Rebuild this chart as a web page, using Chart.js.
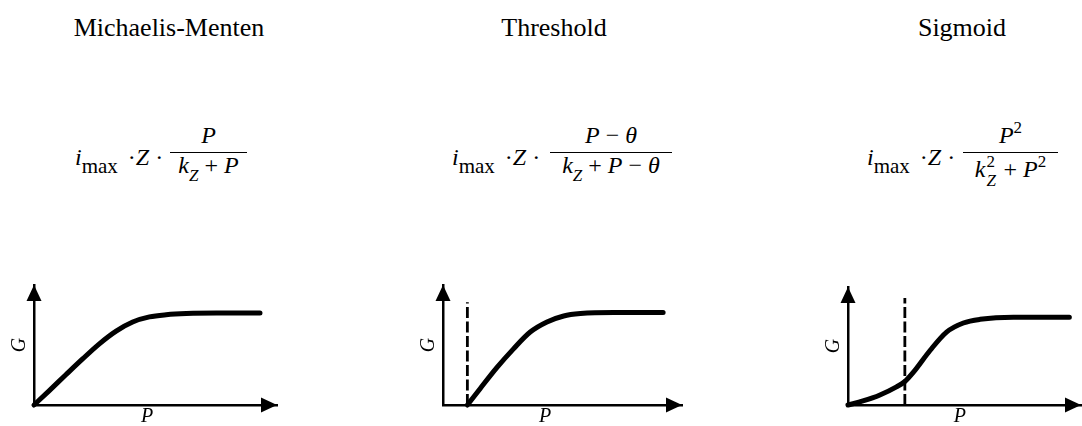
<!DOCTYPE html>
<html>
<head>
<meta charset="utf-8">
<script src="https://cdn.jsdelivr.net/npm/chart.js@4.4.1/dist/chart.umd.min.js"></script>
<style>
  body { margin: 0; background: #fff; }
  #page { position: relative; width: 1082px; height: 426px; overflow: hidden;
          font-family: "Liberation Serif", "Times New Roman", serif; color: #000; }
  .title { position: absolute; top: 15px; width: 300px; font-size: 26px; line-height: 26px; text-align: center; }
  .eq { position: absolute; font-size: 24px; line-height: 24px; white-space: nowrap; }
  .bar { position: absolute; height: 0; border-top: 1.6px solid #000; }
  .num, .den { text-align: center; }
  .sub { font-size: 21px; position: relative; top: 8px; }
  .dot { margin-left: 10px; }
  .zs { font-size: 17px; position: relative; top: 8px; font-style: italic; }
  .sq { font-size: 17px; position: relative; top: -10px; }
  .ss { display: inline-block; position: relative; width: 12px; height: 24px; }
  .ss span { position: absolute; left: 1px; font-size: 17px; line-height: 17px; }
  canvas { position: absolute; top: 270px; }
</style>
</head>
<body>
<div id="page">
  <div class="title" style="left:19px">Michaelis-Menten</div>
  <div class="title" style="left:404px">Threshold</div>
  <div class="title" style="left:812px">Sigmoid</div>

  <!-- i_max · Z · P / (k_Z + P) -->
  <div class="eq" style="left:75px; top:145px"><i>i</i><span class="sub">max</span><span class="dot">·</span><i>Z</i> ·</div>
  <div class="eq num" style="left:170px; width:77px; top:123px"><i>P</i></div>
  <div class="bar" style="left:170px; width:77px; top:152px"></div>
  <div class="eq den" style="left:170px; width:77px; top:153px"><i>k</i><span class="zs">Z</span> + <i>P</i></div>

  <!-- i_max · Z · (P − θ) / (k_Z + P − θ) -->
  <div class="eq" style="left:452px; top:145px"><i>i</i><span class="sub">max</span><span class="dot">·</span><i>Z</i> ·</div>
  <div class="eq num" style="left:550px; width:122px; top:123px"><i>P</i> − <i>θ</i></div>
  <div class="bar" style="left:550px; width:122px; top:152px"></div>
  <div class="eq den" style="left:550px; width:122px; top:153px"><i>k</i><span class="zs">Z</span> + <i>P</i> − <i>θ</i></div>

  <!-- i_max · Z · P² / (k_Z² + P²) -->
  <div class="eq" style="left:867px; top:145px"><i>i</i><span class="sub">max</span><span class="dot">·</span><i>Z</i> ·</div>
  <div class="eq num" style="left:963px; width:95px; top:123px"><i>P</i><span class="sq">2</span></div>
  <div class="bar" style="left:963px; width:95px; top:152px"></div>
  <div class="eq den" style="left:963px; width:95px; top:153px"><i>k</i><span class="ss"><span style="top:0">2</span><span style="top:19px;font-style:italic">Z</span></span> + <i>P</i><span class="sq">2</span></div>

  <canvas id="mm" width="300" height="156" style="left:0"></canvas>
  <canvas id="th" width="310" height="156" style="left:390px"></canvas>
  <canvas id="sg" width="292" height="156" style="left:790px"></canvas>
</div>

<script>
// uptake curves, in percent of axis length (P across, G up)
const mmP = [0, 6.2, 13.1, 20.0, 26.9, 33.8, 40.6, 47.5, 54.4, 62.7, 75.1, 93.0];
const mmG = [0, 11.8, 25.2, 38.4, 51.0, 61.6, 69.2, 73.4, 75.2, 76.2, 76.6, 76.6];

const thP = [10.2, 15.6, 22.6, 29.5, 36.5, 43.5, 50.5, 57.5, 71.4, 92.1];
const thG = [0, 13.8, 31.3, 46.8, 60.8, 69.2, 74.2, 76.2, 77.1, 77.1];

const sgP = [0, 6.4, 13.7, 20.8, 24.4, 28.0, 35.2, 42.3, 49.5, 56.7, 71.0, 95.0];
const sgG = [0, 3.4, 8.5, 15.4, 19.9, 27.6, 46.2, 61.8, 69.5, 72.6, 74.4, 74.4];

// threshold markers (dashed): position on P and height on G
const thTheta = [10.2, 85.7];
const sgTheta = [24.4, 90.6];

const serif = '"Liberation Serif", "Times New Roman", serif';

// filled arrow tips on both axes, plus the P label under the x axis
const axisDecor = {
    id: 'axisDecor',
    afterDraw(chart, args, opts) {
        const { ctx, chartArea: a, scales } = chart;
        ctx.save();
        ctx.fillStyle = '#000';
        ctx.beginPath();
        ctx.moveTo(a.right, a.bottom);
        ctx.lineTo(a.right - 16, a.bottom - 7.5);
        ctx.lineTo(a.right - 16, a.bottom + 7.5);
        ctx.closePath();
        ctx.fill();
        ctx.beginPath();
        ctx.moveTo(a.left, a.top);
        ctx.lineTo(a.left - 7.5, a.top + 16);
        ctx.lineTo(a.left + 7.5, a.top + 16);
        ctx.closePath();
        ctx.fill();

        ctx.font = 'italic 20px ' + serif;
        ctx.textAlign = 'center';
        ctx.textBaseline = 'middle';
        ctx.fillText('P', scales.x.getPixelForValue(opts.labelAt), a.bottom + 12);
        ctx.restore();
    }
};

function points(xs, ys) {
    return xs.map((x, i) => ({ x: x, y: ys[i] }));
}

function axis(title, size) {
    return {
        type: 'linear',
        min: 0,
        max: 100,
        ticks: { display: false },
        grid: { display: false, drawTicks: false },
        border: { display: true, color: '#000', width: 2.5 },
        title: { display: !!title, text: title, color: '#000', padding: 0,
                 font: { family: serif, size: 20, style: 'italic', lineHeight: 1 } },
        afterFit(scale) {
            if (scale.isHorizontal()) scale.height = size;
            else scale.width = size;
        }
    };
}

function makePanel(id, xs, ys, theta, labelAt, pad) {
    const datasets = [{
        data: points(xs, ys),
        borderColor: '#000',
        borderWidth: 5,
        borderCapStyle: 'round',
        pointRadius: 0,
        cubicInterpolationMode: 'monotone',
        clip: false
    }];
    if (theta) {
        datasets.push({
            data: [{ x: theta[0], y: 0 }, { x: theta[0], y: theta[1] }],
            borderColor: '#000',
            borderWidth: 2.8,
            borderDash: [11, 3.5],
            pointRadius: 0
        });
    }
    return new Chart(document.getElementById(id), {
        type: 'line',
        data: { datasets },
        options: {
            responsive: false,
            animation: false,
            events: [],
            layout: { padding: pad },
            plugins: {
                legend: { display: false },
                tooltip: { enabled: false },
                axisDecor: { labelAt: labelAt }
            },
            scales: { x: axis('', 21), y: axis('G', 24) }
        },
        plugins: [axisDecor]
    });
}

makePanel('mm', mmP, mmG, null, 46.5, { left: 10, right: 23, top: 15, bottom: 0 });
makePanel('th', thP, thG, thTheta, 42.7, { left: 29, right: 18, top: 15, bottom: 0 });
makePanel('sg', sgP, sgG, sgTheta, 48, { left: 34, right: 1, top: 17, bottom: 0 });
</script>
</body>
</html>
